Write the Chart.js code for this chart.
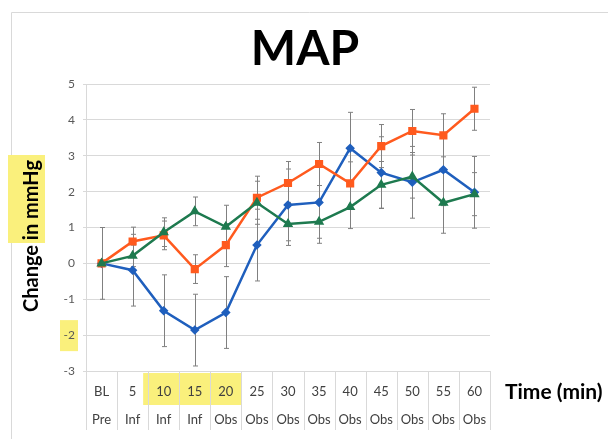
<!DOCTYPE html>
<html>
<head>
<meta charset="utf-8">
<title>MAP</title>
<script src="https://cdn.jsdelivr.net/npm/chart.js@4.4.1/dist/chart.umd.min.js"></script>
<style>
  html, body { margin: 0; padding: 0; background: #fff; }
  #wrap { width: 608px; height: 439px; }
</style>
</head>
<body>
<div id="wrap"><canvas id="mapChart" width="608" height="439"></canvas></div>
<script>
// Time points (first label row) and study phase (second label row)
const timeLabels = ['BL', '5', '10', '15', '20', '25', '30', '35', '40', '45', '50', '55', '60'];
const phaseLabels = ['Pre', 'Inf', 'Inf', 'Inf', 'Obs', 'Obs', 'Obs', 'Obs', 'Obs', 'Obs', 'Obs', 'Obs', 'Obs'];

// Change in MAP (mmHg)
const blueValues = [0, -0.19, -1.32, -1.86, -1.37, 0.51, 1.63, 1.70, 3.21, 2.53, 2.26, 2.61, 1.98];
const orangeValues = [0, 0.61, 0.78, -0.16, 0.51, 1.83, 2.24, 2.77, 2.23, 3.27, 3.69, 3.57, 4.31];
const greenValues = [0, 0.21, 0.87, 1.45, 1.02, 1.69, 1.10, 1.16, 1.57, 2.19, 2.42, 1.69, 1.93];

// Error bar half-lengths
const blueErrors = [1.0, 1.0, 1.0, 1.0, 1.0, 1.0, 1.0, 1.0, 1.0, 1.0, 1.0, 1.0, 1.0];
const orangeErrors = [0, 0.4, 0.4, 0.4, 0.6, 0.6, 0.6, 0.6, 0.6, 0.6, 0.6, 0.6, 0.6];
const greenErrors = [0, 0.3, 0.4, 0.4, 0.6, 0.6, 0.6, 0.6, 0.6, 0.65, 0.6, 0.85, 0.6];

const yMin = -3;
const yMax = 5;
const highlightedTicks = ['10', '15', '20'];

const HIGHLIGHT = '#faf07c';
const GRID = '#d9d9d9';
const FONT = 'Lato, "Open Sans", sans-serif';

// Draws error bars under the lines
const errorBars = {
    id: 'errorBars',
    beforeDatasetsDraw(chart) {
        const { ctx, scales: { x, y } } = chart;
        ctx.save();
        ctx.strokeStyle = '#808080';
        ctx.lineWidth = 1;
        chart.data.datasets.forEach(ds => {
            ds.data.forEach((v, i) => {
                const e = ds.errors[i];
                if (!e) return;
                const px = Math.round(x.getPixelForValue(i)) + 0.5;
                const top = y.getPixelForValue(v + e);
                const bottom = y.getPixelForValue(v - e);
                ctx.beginPath();
                ctx.moveTo(px, top);
                ctx.lineTo(px, bottom);
                ctx.moveTo(px - 2.5, top);
                ctx.lineTo(px + 2.5, top);
                ctx.moveTo(px - 2.5, bottom);
                ctx.lineTo(px + 2.5, bottom);
                ctx.stroke();
            });
        });
        ctx.restore();
    }
};

// Frame, highlighter marks, label table lines and the free text
const decorations = {
    id: 'decorations',
    beforeDraw(chart) {
        const { ctx, chartArea, scales: { x, y } } = chart;
        ctx.save();
        ctx.strokeStyle = GRID;
        ctx.lineWidth = 1;
        ctx.beginPath();
        ctx.moveTo(11.5, chart.height);
        ctx.lineTo(11.5, 12.5);
        ctx.lineTo(chart.width, 12.5);
        ctx.stroke();

        ctx.fillStyle = HIGHLIGHT;
        const half = (x.getPixelForValue(1) - x.getPixelForValue(0)) / 2;
        const first = timeLabels.indexOf(highlightedTicks[0]);
        const last = timeLabels.indexOf(highlightedTicks[highlightedTicks.length - 1]);
        const hx0 = x.getPixelForValue(first) - half - 5;
        const hx1 = x.getPixelForValue(last) + half;
        ctx.fillRect(hx0, chartArea.bottom + 2, hx1 - hx0, 32);

        const ym2 = y.getPixelForValue(-2);
        ctx.fillRect(60, ym2 - 15, 18, 31);

        // highlighter over "in mmHg"
        ctx.fillRect(8, 155, 37, 88);
        ctx.restore();
    },
    afterDraw(chart) {
        const { ctx, chartArea, scales: { x } } = chart;
        ctx.save();
        ctx.strokeStyle = GRID;
        ctx.lineWidth = 1;
        const half = (x.getPixelForValue(1) - x.getPixelForValue(0)) / 2;
        ctx.beginPath();
        for (let i = 0; i <= timeLabels.length; i++) {
            const px = Math.round(x.getPixelForValue(i) - half) + 0.5;
            ctx.moveTo(px, chartArea.bottom);
            ctx.lineTo(px, chartArea.bottom + 59);
        }
        ctx.stroke();

        ctx.fillStyle = '#000';
        ctx.textAlign = 'center';
        ctx.textBaseline = 'middle';
        ctx.font = 'bold 48px ' + FONT;
        ctx.fillText('MAP', 305, 50);

        ctx.font = 'bold 21px ' + FONT;
        ctx.textAlign = 'left';
        ctx.fillText('Time (min)', chartArea.right + 15, chartArea.bottom + 21);

        ctx.translate(32, 236);
        ctx.rotate(-Math.PI / 2);
        ctx.textAlign = 'center';
        ctx.font = 'bold 20px ' + FONT;
        ctx.fillText('Change in mmHg', 0, 0);
        ctx.restore();
    }
};

const mapData = {
    labels: timeLabels.map((t, i) => [t, phaseLabels[i]]),
    datasets: [
        {
            label: 'Blue',
            data: blueValues,
            errors: blueErrors,
            borderColor: '#1f5fbd',
            backgroundColor: '#1f5fbd',
            pointStyle: 'rectRot',
            pointRadius: 3,
            borderWidth: 2.5,
            order: 3
        },
        {
            label: 'Orange',
            data: orangeValues,
            errors: orangeErrors,
            borderColor: '#ff5a1e',
            backgroundColor: '#ff5a1e',
            pointStyle: 'rect',
            pointRadius: 4,
            borderWidth: 2.5,
            order: 2
        },
        {
            label: 'Green',
            data: greenValues,
            errors: greenErrors,
            borderColor: '#1e7a4f',
            backgroundColor: '#1e7a4f',
            pointStyle: 'triangle',
            pointRadius: 3.5,
            borderWidth: 2.5,
            order: 1
        }
    ]
};

const mapConfig = {
    type: 'line',
    data: mapData,
    options: {
        responsive: false,
        animation: false,
        layout: { padding: { left: 12, right: 118, top: 84, bottom: 0 } },
        elements: { line: { tension: 0 } },
        plugins: {
            legend: { display: false },
            tooltip: { enabled: false },
            title: { display: false }
        },
        scales: {
            x: {
                offset: true,
                grid: { display: false },
                border: { display: false },
                ticks: {
                    color: '#404040',
                    font: { family: FONT, size: 13, lineHeight: '28px' },
                    padding: -1,
                    maxRotation: 0,
                    autoSkip: false
                },
                afterFit(scale) { scale.height = 68; }
            },
            y: {
                min: yMin,
                max: yMax,
                ticks: {
                    stepSize: 1,
                    color: '#595959',
                    font: { family: FONT, size: 12 },
                    padding: 8
                },
                grid: { color: GRID, lineWidth: 1, tickLength: 3 },
                border: { display: true, color: GRID },
                afterFit(scale) { scale.width = 74; }
            }
        }
    },
    plugins: [errorBars, decorations]
};

new Chart(document.getElementById('mapChart'), mapConfig);
</script>
</body>
</html>
